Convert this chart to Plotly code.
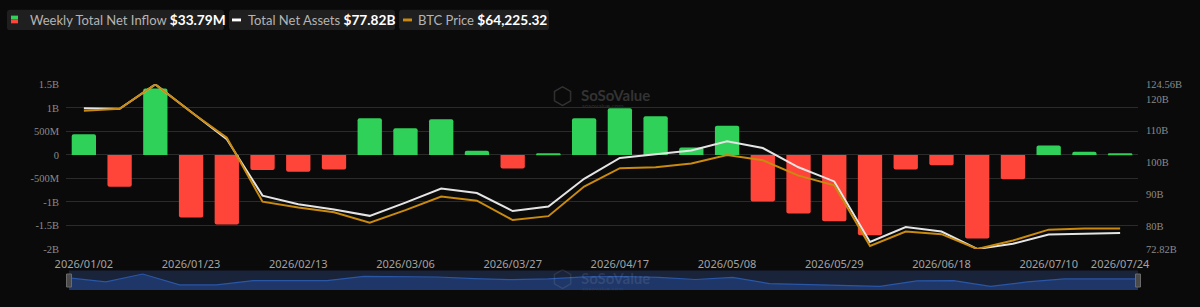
import plotly.graph_objects as go

# ---------------- data ----------------
dates = ["2026/01/02", "2026/01/09", "2026/01/16", "2026/01/23", "2026/01/30",
         "2026/02/06", "2026/02/13", "2026/02/20", "2026/02/27", "2026/03/06",
         "2026/03/13", "2026/03/20", "2026/03/27", "2026/04/03", "2026/04/10",
         "2026/04/17", "2026/04/24", "2026/05/01", "2026/05/08", "2026/05/15",
         "2026/05/22", "2026/05/29", "2026/06/05", "2026/06/12", "2026/06/18",
         "2026/06/26", "2026/07/02", "2026/07/10", "2026/07/17", "2026/07/24"]

# Weekly total net inflow (USD)
net_inflow = [0.44e9, -0.68e9, 1.41e9, -1.33e9, -1.48e9,
              -0.32e9, -0.36e9, -0.31e9, 0.78e9, 0.565e9,
              0.76e9, 0.09e9, -0.29e9, 0.027e9, 0.78e9,
              0.99e9, 0.82e9, 0.155e9, 0.62e9, -0.99e9,
              -1.245e9, -1.41e9, -1.71e9, -0.31e9, -0.22e9,
              -1.78e9, -0.52e9, 0.197e9, 0.068e9, 0.03379e9]

# Total net assets (B USD)
net_assets = [117.07, 116.86, 124.56, 116.01, 107.28,
              89.58, 86.85, 85.25, 83.22, 87.37,
              91.83, 90.40, 84.73, 86.16, 94.86,
              101.43, 102.52, 103.74, 106.68, 104.55,
              98.49, 94.04, 75.03, 79.70, 78.28,
              72.82, 74.43, 77.37, 77.58, 77.82]

# BTC price (USD)
btc_price = [90174, 90599, 96000, 89897, 84220,
             70120, 68845, 67781, 65505, 68270,
             71248, 70333, 66079, 66930, 73459,
             77499, 77712, 78562, 80391, 79265,
             75862, 73735, 60338, 63528, 62953,
             59700, 61550, 63953, 64230, 64225.32]

# overview (range-slider) series, relative units
overview = [12.6, 8.5, 16.7, 5.4, 5.4,
            9.9, 9.9, 9.9, 14.3, 14.0,
            13.6, 11.9, 10.9, 11.7, 13.7,
            14.1, 13.2, 11.0, 13.1, 6.8,
            5.7, 4.7, 3.8, 9.6, 9.9,
            3.8, 8.5, 11.6, 11.6, 11.6]

x_tick_vals = ["2026/01/02", "2026/01/23", "2026/02/13", "2026/03/06", "2026/03/27",
               "2026/04/17", "2026/05/08", "2026/05/29", "2026/06/18", "2026/07/10",
               "2026/07/24"]
left_tick_vals = [-2e9, -1.5e9, -1e9, -0.5e9, 0, 0.5e9, 1e9, 1.5e9]
left_tick_text = ["-2B", "-1.5B", "-1B", "-500M", "0", "500M", "1B", "1.5B"]
right_tick_vals = [72.82, 80, 90, 100, 110, 120, 124.56]
right_tick_text = ["72.82B", "80B", "90B", "100B", "110B", "120B", "124.56B"]

legend_inflow = "$33.79M"
legend_assets = "$77.82B"
legend_btc = "$64,225.32"

# ---------------- style ----------------
BG = "#0a0a0a"
GREEN = "#30d158"
RED = "#ff453a"
WHITE_LINE = "#e4e4e4"
ORANGE = "#c98a0e"
GRID = "#2b2b2b"
TICK = "#8a8a8a"
SERIF = "Liberation Serif, Times New Roman, DejaVu Serif, serif"

W, H = 1200, 307
ML, MR = 66, 62
PW = W - ML - MR


def px_x(px):
    return (px - ML) / PW


def px_y(py):
    return (H - py) / H


bar_colors = [GREEN if v >= 0 else RED for v in net_inflow]

fig = go.Figure()
fig.add_trace(go.Bar(x=dates, y=net_inflow, marker=dict(color=bar_colors, line=dict(width=0), cornerradius=2),
                     xaxis="x", yaxis="y", hoverinfo="skip"))
fig.add_trace(go.Scatter(x=dates, y=net_assets, mode="lines", line=dict(color=WHITE_LINE, width=2),
                         xaxis="x", yaxis="y2", hoverinfo="skip"))
fig.add_trace(go.Scatter(x=dates, y=btc_price, mode="lines", line=dict(color=ORANGE, width=2),
                         xaxis="x", yaxis="y3", hoverinfo="skip"))
fig.add_trace(go.Scatter(x=dates, y=overview, mode="lines", fill="tozeroy",
                         line=dict(color="#2a56a6", width=1.2), fillcolor="#1e3768",
                         xaxis="x2", yaxis="y4", hoverinfo="skip"))

main_dom = [px_y(253), px_y(82.3)]
slider_dom = [px_y(295.7), px_y(275.3)]

fig.update_layout(
    width=W, height=H,
    margin=dict(l=ML, r=MR, t=0, b=0),
    paper_bgcolor=BG, plot_bgcolor=BG,
    showlegend=False, bargap=0.32,
    xaxis=dict(type="category", domain=[0, 1], range=[-0.5, 29.5], anchor="y",
               tickmode="array", tickvals=x_tick_vals, ticktext=x_tick_vals,
               showgrid=False, zeroline=False, showline=False, ticks="",
               tickfont=dict(family="Noto Sans", size=11, color="#a3a3a3"),
               ticklabelstandoff=7),
    yaxis=dict(domain=main_dom, range=[-2e9, 1.5e9], tickmode="array",
               tickvals=left_tick_vals, ticktext=left_tick_text,
               showgrid=True, gridcolor=GRID, gridwidth=1, zeroline=False,
               ticks="", ticklabelstandoff=6,
               tickfont=dict(family=SERIF, size=10.5, color=TICK)),
    yaxis2=dict(overlaying="y", side="right", anchor="x", range=[72.82, 124.56],
                tickmode="array", tickvals=right_tick_vals, ticktext=right_tick_text,
                showgrid=False, zeroline=False, ticks="", ticklabelstandoff=7,
                tickfont=dict(family=SERIF, size=10.5, color=TICK)),
    yaxis3=dict(overlaying="y", anchor="x", range=[59700, 96000], visible=False),
    xaxis2=dict(type="category", domain=[px_x(69), min(1.0, px_x(1139))], range=[0, 29],
                anchor="y4", visible=False),
    yaxis4=dict(domain=slider_dom, range=[0, 20.4], visible=False),
)

shapes = []
# slider band background
shapes.append(dict(type="rect", xref="x2 domain", yref="y4 domain", x0=0, x1=1, y0=0, y1=1,
                   fillcolor="#19233a", line=dict(width=0), layer="below"))
# slider handles
for hx in (69, 1138):
    shapes.append(dict(type="rect", xref="paper", yref="paper",
                       x0=px_x(hx - 2.5), x1=px_x(hx + 2.5), y0=px_y(292.5), y1=px_y(279),
                       fillcolor="#4a4a4a", line=dict(color="#6a6a6a", width=1)))


def rounded_box(x0, x1, y0, y1, r=3):
    X0, X1 = px_x(x0), px_x(x1)
    Y0, Y1 = px_y(y1), px_y(y0)  # paper: bottom, top
    rx = r / PW
    ry = r / H
    path = (f"M {X0+rx},{Y0} L {X1-rx},{Y0} Q {X1},{Y0} {X1},{Y0+ry} "
            f"L {X1},{Y1-ry} Q {X1},{Y1} {X1-rx},{Y1} L {X0+rx},{Y1} "
            f"Q {X0},{Y1} {X0},{Y1-ry} L {X0},{Y0+ry} Q {X0},{Y0} {X0+rx},{Y0} Z")
    return dict(type="path", xref="paper", yref="paper", path=path,
                fillcolor="#1f1f1f", line=dict(width=0))


shapes.append(rounded_box(7, 224, 5, 26))
shapes.append(rounded_box(229, 395, 5, 26))
shapes.append(rounded_box(399, 549, 5, 26))
# legend icons
shapes.append(dict(type="rect", xref="paper", yref="paper", x0=px_x(11), x1=px_x(18),
                   y0=px_y(15), y1=px_y(11), fillcolor=GREEN, line=dict(width=0)))
shapes.append(dict(type="rect", xref="paper", yref="paper", x0=px_x(11), x1=px_x(18),
                   y0=px_y(19), y1=px_y(15), fillcolor=RED, line=dict(width=0)))
shapes.append(dict(type="rect", xref="paper", yref="paper", x0=px_x(232), x1=px_x(241),
                   y0=px_y(17), y1=px_y(14), fillcolor="#ffffff", line=dict(width=0)))
shapes.append(dict(type="rect", xref="paper", yref="paper", x0=px_x(403), x1=px_x(412),
                   y0=px_y(17), y1=px_y(14), fillcolor=ORANGE, line=dict(width=0)))
fig.update_layout(shapes=shapes)

ann = []
ly = px_y(15.5)
for x0, label, value in ((28, "Weekly Total Net Inflow", legend_inflow),
                         (246, "Total Net Assets", legend_assets),
                         (416, "BTC Price", legend_btc)):
    ann.append(dict(xref="paper", yref="paper", x=px_x(x0), y=ly, xanchor="left", yanchor="middle",
                    showarrow=False,
                    text=f"{label} <span style='font-size:13.7px;color:#ffffff'><b>{value}</b></span>",
                    font=dict(family="Lato", size=13, color="#b4b4b4")))
# watermarks
for cy, col_main, col_sub in ((93, "#333333", "#2e2e2e"),
                              (283, "rgba(255,255,255,0.10)", "rgba(255,255,255,0.08)")):
    ann.append(dict(xref="paper", yref="paper", x=px_x(562.5), y=px_y(cy + 1.5), xanchor="center",
                    yanchor="middle", showarrow=False, text="⬡",
                    font=dict(family="DejaVu Sans", size=24, color=col_main)))
    ann.append(dict(xref="paper", yref="paper", x=px_x(579), y=px_y(cy), xanchor="left", yanchor="middle",
                    showarrow=False, text="<b>SoSoValue</b>", font=dict(family="Lato", size=15, color=col_main)))
    ann.append(dict(xref="paper", yref="paper", x=px_x(580), y=px_y(cy + 11.5), xanchor="left",
                    yanchor="middle", showarrow=False, text="sosovalue.com",
                    font=dict(family="Lato", size=6.5, color=col_sub)))
fig.update_layout(annotations=ann)

fig.write_html("out.html")
